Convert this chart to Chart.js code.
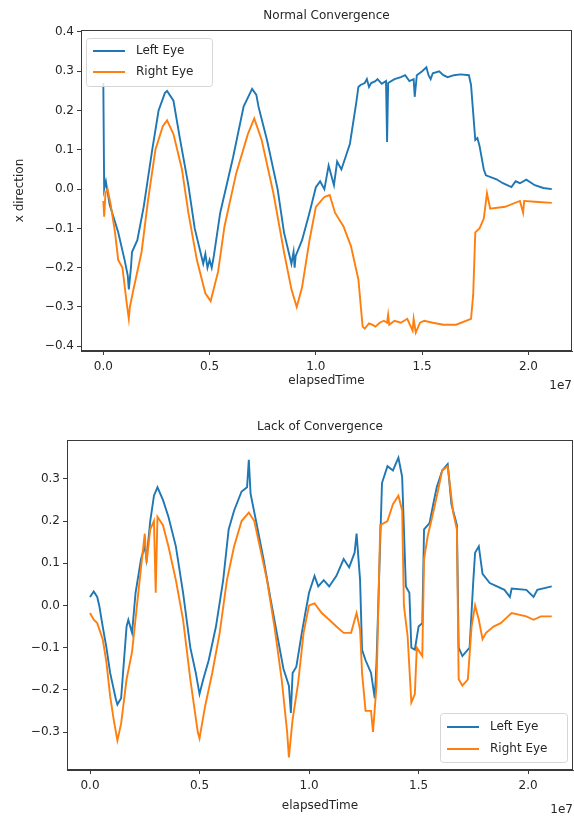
<!DOCTYPE html>
<html lang="en">
<head>
<meta charset="UTF-8">
<title>Eye convergence</title>
<script src="https://cdn.jsdelivr.net/npm/chart.js"></script>
<style>
    body { margin: 0; background: #fff; }
    #wrap { position: relative; width: 574px; height: 819px; }
    canvas { position: absolute; left: 0; }
    #normal-chart { top: 0; }
    #lack-chart { top: 400px; }
</style>
</head>
<body>
<div id="wrap">
    <canvas id="normal-chart" width="574" height="400"></canvas>
    <canvas id="lack-chart" width="574" height="419"></canvas>
</div>
<script>
// elapsedTime in units of 1e7, x direction values
const normalLeft = [
    [0.000, 0.27], [0.004, 0.00], [0.012, 0.02], [0.03, -0.04], [0.07, -0.11], [0.1, -0.18],
    [0.115, -0.22], [0.12, -0.255], [0.13, -0.2], [0.135, -0.16], [0.16, -0.13], [0.19, -0.045],
    [0.23, 0.10], [0.26, 0.20], [0.29, 0.245], [0.3, 0.25], [0.33, 0.225], [0.36, 0.13],
    [0.4, 0.01], [0.43, -0.10], [0.47, -0.19], [0.48, -0.165], [0.49, -0.2], [0.5, -0.18],
    [0.51, -0.2], [0.52, -0.17], [0.55, -0.06], [0.61, 0.08], [0.66, 0.21], [0.70, 0.255],
    [0.72, 0.24], [0.73, 0.21], [0.77, 0.125], [0.82, 0.0], [0.85, -0.11], [0.885, -0.19],
    [0.895, -0.16], [0.9, -0.2], [0.905, -0.17], [0.935, -0.13], [0.97, -0.06], [1.0, 0.005],
    [1.02, 0.02], [1.04, 0.00], [1.06, 0.06], [1.085, 0.01], [1.1, 0.07], [1.12, 0.05],
    [1.16, 0.115], [1.19, 0.22], [1.2, 0.26], [1.21, 0.265], [1.23, 0.27], [1.24, 0.28],
    [1.25, 0.26], [1.26, 0.27], [1.28, 0.275], [1.29, 0.28], [1.31, 0.268], [1.33, 0.275],
    [1.335, 0.12], [1.34, 0.27], [1.37, 0.28], [1.4, 0.285], [1.42, 0.29], [1.44, 0.275],
    [1.46, 0.28], [1.465, 0.235], [1.475, 0.29], [1.5, 0.3], [1.52, 0.31], [1.53, 0.29],
    [1.54, 0.28], [1.55, 0.295], [1.58, 0.3], [1.6, 0.29], [1.62, 0.285], [1.65, 0.29],
    [1.68, 0.292], [1.72, 0.29], [1.73, 0.265], [1.75, 0.125], [1.76, 0.13], [1.77, 0.11],
    [1.79, 0.05], [1.8, 0.035], [1.85, 0.025], [1.88, 0.015], [1.92, 0.005], [1.94, 0.02],
    [1.96, 0.015], [1.99, 0.024], [2.03, 0.01], [2.07, 0.003], [2.11, 0.0]
];
const normalRight = [
    [0.0, -0.03], [0.004, -0.07], [0.01, -0.01], [0.02, 0.0], [0.035, -0.04], [0.055, -0.11],
    [0.07, -0.18], [0.09, -0.2], [0.11, -0.29], [0.12, -0.33], [0.125, -0.3], [0.14, -0.26],
    [0.18, -0.16], [0.21, -0.03], [0.245, 0.10], [0.28, 0.16], [0.3, 0.175], [0.33, 0.14],
    [0.37, 0.05], [0.4, -0.06], [0.44, -0.18], [0.48, -0.265], [0.505, -0.285], [0.54, -0.21],
    [0.57, -0.095], [0.625, 0.04], [0.68, 0.14], [0.71, 0.18], [0.745, 0.125], [0.8, -0.01],
    [0.85, -0.16], [0.885, -0.255], [0.91, -0.3], [0.935, -0.25], [0.97, -0.13], [1.0, -0.045],
    [1.04, -0.02], [1.065, -0.015], [1.09, -0.06], [1.13, -0.095], [1.165, -0.145], [1.2, -0.23],
    [1.22, -0.35], [1.23, -0.355], [1.25, -0.342], [1.265, -0.345], [1.28, -0.35], [1.3, -0.34],
    [1.32, -0.335], [1.335, -0.34], [1.34, -0.32], [1.345, -0.345], [1.37, -0.335], [1.4, -0.34],
    [1.43, -0.33], [1.455, -0.36], [1.46, -0.33], [1.47, -0.365], [1.49, -0.34], [1.51, -0.335],
    [1.55, -0.34], [1.6, -0.345], [1.66, -0.345], [1.73, -0.33], [1.74, -0.27], [1.75, -0.11],
    [1.77, -0.1], [1.79, -0.075], [1.805, -0.01], [1.82, -0.05], [1.89, -0.045], [1.96, -0.03],
    [1.975, -0.06], [1.98, -0.03], [2.03, -0.032], [2.11, -0.035]
];
const lackLeft = [
    [0.0, 0.02], [0.017, 0.033], [0.033, 0.02], [0.042, 0.0], [0.058, -0.05], [0.075, -0.1],
    [0.092, -0.16], [0.117, -0.22], [0.125, -0.235], [0.142, -0.22], [0.167, -0.05], [0.175, -0.034],
    [0.192, -0.065], [0.208, 0.03], [0.233, 0.11], [0.25, 0.14], [0.258, 0.11], [0.275, 0.2],
    [0.292, 0.26], [0.308, 0.28], [0.333, 0.25], [0.358, 0.21], [0.392, 0.14], [0.425, 0.03],
    [0.458, -0.1], [0.483, -0.16], [0.5, -0.21], [0.517, -0.175], [0.542, -0.13], [0.575, -0.05],
    [0.608, 0.06], [0.633, 0.18], [0.658, 0.225], [0.692, 0.27], [0.717, 0.28], [0.725, 0.345],
    [0.733, 0.265], [0.758, 0.2], [0.792, 0.11], [0.825, 0.013], [0.858, -0.08], [0.883, -0.15],
    [0.908, -0.19], [0.917, -0.255], [0.925, -0.16], [0.942, -0.145], [0.967, -0.065], [0.983, -0.018],
    [1.0, 0.03], [1.025, 0.07], [1.042, 0.045], [1.067, 0.06], [1.092, 0.045], [1.125, 0.07],
    [1.158, 0.11], [1.183, 0.09], [1.208, 0.125], [1.217, 0.17], [1.233, 0.06], [1.242, -0.105],
    [1.258, -0.13], [1.283, -0.16], [1.3, -0.22], [1.308, -0.135], [1.333, 0.29], [1.358, 0.33],
    [1.383, 0.32], [1.408, 0.35], [1.425, 0.305], [1.442, 0.045], [1.458, 0.03], [1.467, -0.1],
    [1.483, -0.105], [1.5, -0.05], [1.517, -0.042], [1.525, 0.18], [1.55, 0.195], [1.567, 0.24],
    [1.583, 0.28], [1.608, 0.32], [1.633, 0.335], [1.65, 0.24], [1.675, 0.19], [1.683, -0.1],
    [1.7, -0.12], [1.733, -0.1], [1.75, 0.06], [1.758, 0.125], [1.775, 0.14], [1.792, 0.075],
    [1.825, 0.053], [1.858, 0.045], [1.892, 0.037], [1.917, 0.02], [1.925, 0.04], [1.992, 0.037],
    [2.025, 0.02], [2.042, 0.037], [2.108, 0.045]
];
const lackRight = [
    [0.0, -0.018], [0.017, -0.034], [0.033, -0.042], [0.058, -0.08], [0.075, -0.135], [0.092, -0.215],
    [0.108, -0.27], [0.125, -0.32], [0.142, -0.28], [0.167, -0.175], [0.192, -0.11], [0.217, 0.013],
    [0.233, 0.09], [0.25, 0.17], [0.258, 0.1], [0.275, 0.18], [0.292, 0.2], [0.3, 0.03],
    [0.308, 0.21], [0.333, 0.19], [0.358, 0.14], [0.392, 0.06], [0.425, -0.034], [0.458, -0.175],
    [0.492, -0.3], [0.5, -0.315], [0.525, -0.24], [0.558, -0.16], [0.592, -0.065], [0.625, 0.06],
    [0.658, 0.14], [0.692, 0.2], [0.725, 0.22], [0.75, 0.2], [0.775, 0.14], [0.808, 0.06],
    [0.842, -0.05], [0.875, -0.175], [0.9, -0.3], [0.908, -0.36], [0.925, -0.27], [0.95, -0.185],
    [0.975, -0.065], [1.0, 0.0], [1.025, 0.005], [1.058, -0.018], [1.092, -0.034], [1.125, -0.05],
    [1.158, -0.065], [1.192, -0.065], [1.217, -0.018], [1.233, -0.058], [1.242, -0.16], [1.258, -0.25],
    [1.283, -0.25], [1.292, -0.3], [1.308, -0.19], [1.325, 0.19], [1.358, 0.2], [1.383, 0.24],
    [1.408, 0.26], [1.425, 0.225], [1.433, 0.0], [1.45, -0.073], [1.467, -0.23], [1.483, -0.21],
    [1.492, -0.1], [1.517, -0.12], [1.525, 0.11], [1.542, 0.165], [1.567, 0.22], [1.592, 0.28],
    [1.608, 0.32], [1.633, 0.33], [1.658, 0.22], [1.675, 0.18], [1.683, -0.175], [1.7, -0.19],
    [1.725, -0.175], [1.742, -0.05], [1.758, 0.0], [1.775, -0.034], [1.792, -0.08], [1.808, -0.065],
    [1.842, -0.05], [1.875, -0.042], [1.908, -0.026], [1.925, -0.018], [1.992, -0.026], [2.025, -0.034],
    [2.058, -0.026], [2.108, -0.026]
];
const xTicks = [0.0, 0.5, 1.0, 1.5, 2.0];
const normalYTicks = [-0.4, -0.3, -0.2, -0.1, 0.0, 0.1, 0.2, 0.3, 0.4];
const lackYTicks = [-0.3, -0.2, -0.1, 0.0, 0.1, 0.2, 0.3];
const seriesNames = ['Left Eye', 'Right Eye'];
const seriesColors = ['#1f77b4', '#ff7f0e'];

const FONT = '"DejaVu Sans", sans-serif';
const TEXT = '#262626';
const SPINE = '#3a3a3a';

function fmt(v) {
    return (v < -1e-9 ? '\u2212' : '') + Math.abs(v).toFixed(1);
}

// matplotlib-like decorations: full frame, title, axis labels, offset text, legend
const decorPlugin = {
    id: 'decor',
    afterDraw(chart, args, o) {
        const ctx = chart.ctx;
        const a = chart.chartArea;
        const cx = (a.left + a.right) / 2;
        ctx.save();
        ctx.strokeStyle = SPINE;
        ctx.lineWidth = 1;
        ctx.strokeRect(a.left + 0.5, a.top + 0.5, a.right - a.left - 1, a.bottom - a.top - 1);

        ctx.fillStyle = TEXT;
        ctx.font = '12px ' + FONT;
        ctx.textAlign = 'center';
        ctx.textBaseline = 'middle';
        ctx.fillText(o.title, cx, o.titleY);
        ctx.fillText('elapsedTime', cx, a.bottom + o.xLabelGap);
        ctx.textAlign = 'right';
        ctx.fillText('1e7', a.right, a.bottom + o.offsetGap);

        if (o.yLabel) {
            ctx.save();
            ctx.translate(o.yLabelX, (a.top + a.bottom) / 2);
            ctx.rotate(-Math.PI / 2);
            ctx.textAlign = 'center';
            ctx.fillText(o.yLabel, 0, 0);
            ctx.restore();
        }

        // legend box
        const L = o.legend;
        ctx.fillStyle = 'rgba(255,255,255,0.8)';
        ctx.strokeStyle = '#d6d6d6';
        ctx.lineWidth = 1;
        ctx.beginPath();
        ctx.roundRect(L.x + 0.5, L.y + 0.5, L.w, L.h, 3);
        ctx.fill();
        ctx.stroke();
        ctx.textAlign = 'left';
        ctx.font = '12px ' + FONT;
        seriesNames.forEach((name, i) => {
            const y = L.y + L.firstRow + i * L.rowGap;
            ctx.strokeStyle = seriesColors[i];
            ctx.lineWidth = 2;
            ctx.beginPath();
            ctx.moveTo(L.x + 7, y);
            ctx.lineTo(L.x + 39, y);
            ctx.stroke();
            ctx.fillStyle = TEXT;
            ctx.fillText(name, L.x + 50, y);
        });
        ctx.restore();
    }
};

function makeChart(id, left, right, yMin, yMax, yTicks, opts) {
    const ctx = document.getElementById(id).getContext('2d');
    return new Chart(ctx, {
        type: 'line',
        data: {
            datasets: [left, right].map((pts, i) => ({
                label: seriesNames[i],
                data: pts.map(p => ({ x: p[0], y: p[1] })),
                borderColor: seriesColors[i],
                borderWidth: 1.9,
                pointRadius: 0,
                tension: 0,
                fill: false,
                order: 1 - i
            }))
        },
        options: {
            responsive: false,
            animation: false,
            devicePixelRatio: 1,
            layout: { padding: opts.padding },
            plugins: {
                legend: { display: false },
                title: { display: false },
                tooltip: { enabled: false },
                decor: opts.decor
            },
            scales: {
                x: {
                    type: 'linear',
                    min: -0.105,
                    max: 2.205,
                    afterBuildTicks: s => { s.ticks = xTicks.map(v => ({ value: v })); },
                    afterFit: s => { s.height = opts.xHeight; },
                    ticks: { callback: v => fmt(v), color: TEXT, font: { family: FONT, size: 12 }, padding: 5, maxRotation: 0 },
                    grid: { drawOnChartArea: false, drawTicks: true, tickLength: 4, color: SPINE },
                    border: { display: true, color: SPINE }
                },
                y: {
                    min: yMin,
                    max: yMax,
                    afterBuildTicks: s => { s.ticks = yTicks.map(v => ({ value: v })); },
                    afterFit: s => { s.width = opts.yWidth; },
                    ticks: { callback: v => fmt(v), color: TEXT, font: { family: FONT, size: 12 }, padding: 3 },
                    grid: { drawOnChartArea: false, drawTicks: true, tickLength: 4, color: SPINE },
                    border: { display: true, color: SPINE }
                }
            }
        },
        plugins: [decorPlugin]
    });
}

makeChart('normal-chart', normalLeft, normalRight, -0.412, 0.405, normalYTicks, {
    padding: { top: 30, right: 2, bottom: 0, left: 0 },
    yWidth: 81,
    xHeight: 49,
    decor: {
        title: 'Normal Convergence', titleY: 16, xLabelGap: 30, offsetGap: 35,
        yLabel: 'x direction', yLabelX: 20,
        legend: { x: 86, y: 38, w: 126, h: 48, firstRow: 13, rowGap: 21 }
    }
});

makeChart('lack-chart', lackLeft, lackRight, -0.39, 0.392, lackYTicks, {
    padding: { top: 40, right: 1, bottom: 0, left: 0 },
    yWidth: 67,
    xHeight: 49,
    decor: {
        title: 'Lack of Convergence', titleY: 27, xLabelGap: 36, offsetGap: 40,
        yLabel: null,
        legend: { x: 440, y: 313, w: 127, h: 49, firstRow: 14, rowGap: 22 }
    }
});
</script>
</body>
</html>
